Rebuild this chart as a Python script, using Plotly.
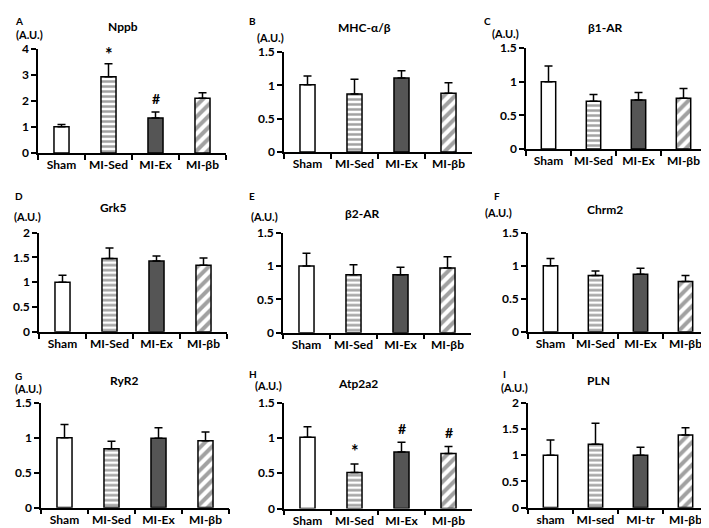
import plotly.graph_objects as go

W, H = 709, 528

groups = ["Sham", "MI-Sed", "MI-Ex", "MI-βb"]
groups_pln = ["sham", "MI-sed", "MI-tr", "MI-βb"]

titles = ["Nppb", "MHC-α/β", "β1-AR", "Grk5", "β2-AR", "Chrm2", "RyR2", "Atp2a2", "PLN"]
letters = ["A", "B", "C", "D", "E", "F", "G", "H", "I"]

nppb_val = [1.01, 2.93, 1.35, 2.11]
nppb_err = [0.09, 0.50, 0.23, 0.21]
mhc_val = [1.01, 0.87, 1.11, 0.88]
mhc_err = [0.13, 0.22, 0.11, 0.16]
b1ar_val = [1.00, 0.71, 0.73, 0.755]
b1ar_err = [0.235, 0.10, 0.11, 0.145]
grk5_val = [1.00, 1.48, 1.43, 1.34]
grk5_err = [0.14, 0.21, 0.10, 0.15]
b2ar_val = [1.00, 0.87, 0.87, 0.97]
b2ar_err = [0.19, 0.15, 0.11, 0.17]
chrm2_val = [1.00, 0.85, 0.87, 0.76]
chrm2_err = [0.11, 0.07, 0.09, 0.09]
ryr2_val = [1.00, 0.84, 0.99, 0.955]
ryr2_err = [0.19, 0.11, 0.15, 0.125]
atp_val = [1.01, 0.51, 0.80, 0.78]
atp_err = [0.15, 0.12, 0.14, 0.10]
pln_val = [1.00, 1.21, 1.00, 1.385]
pln_err = [0.29, 0.40, 0.15, 0.135]

values = [nppb_val, mhc_val, b1ar_val, grk5_val, b2ar_val, chrm2_val, ryr2_val, atp_val, pln_val]
errors = [nppb_err, mhc_err, b1ar_err, grk5_err, b2ar_err, chrm2_err, ryr2_err, atp_err, pln_err]
yranges = [4, 1.5, 1.5, 2, 1.5, 1.5, 1.5, 1.5, 2]
ytickvals = [[0, 1, 2, 3, 4], [0, 0.5, 1, 1.5], [0, 0.5, 1, 1.5], [0, 0.5, 1, 1.5, 2],
             [0, 0.5, 1, 1.5], [0, 0.5, 1, 1.5], [0, 0.5, 1, 1.5], [0, 0.5, 1, 1.5],
             [0, 0.5, 1, 1.5, 2]]
yticktext = [["0", "1", "2", "3", "4"], ["0", "0.5", "1", "1.5"], ["0", "0.5", "1", "1.5"],
             ["0", "0.5", "1", "1.5", "2"], ["0", "0.5", "1", "1.5"], ["0", "0.5", "1", "1.5"],
             ["0", "0.5", "1", "1.5"], ["0", "0.5", "1", "1.5"], ["0", "0.5", "1", "1.5", "2"]]

# significance markers: (panel index, group index, symbol, y value)
sig_panel = [0, 0, 7, 7, 7]
sig_group = [1, 2, 1, 2, 3]
sig_text = ["*", "#", "*", "#", "#"]
sig_y = [3.82, 2.09, 0.82, 1.14, 1.08]

# layout geometry (pixels)
ax_left = [30, 276, 518, 31, 275, 520, 33, 276, 520]
ax_len = [188, 188, 180, 188, 188, 180, 188, 188, 180]
ax_top = [34, 37, 33, 223, 223, 223, 398, 398, 398]
ax_bot = [141, 140, 137, 325, 326, 325, 506, 507, 506]
title_pos = [(115, 11), (356, 12), (597, 12), (106, 197), (354, 203), (597, 199),
             (116, 375), (350, 378), (590, 375)]
au_pos = [(21, 19), (262, 22), (497, 18), (19, 206), (256, 206), (490, 202),
          (20, 383), (260, 380), (506, 382)]
letter_pos = [(5, 5), (239, 5), (474, 5), (5, 185), (239, 185), (484, 185),
              (5, 371), (239, 368), (493, 368)]

FONT = "Lato"
fills = ["white", "white", "#555555", "white"]
shapes_pat = ["", "-", "", "/"]


def b(s):
    return "<b>%s</b>" % s


fig = go.Figure()
annotations = []

for i in range(9):
    n = "" if i == 0 else str(i + 1)
    cats = groups_pln if i == 8 else groups
    fig.add_trace(go.Bar(
        x=cats, y=values[i],
        xaxis="x" + n, yaxis="y" + n,
        marker=dict(
            color=fills,
            line=dict(color="black", width=1.5),
            pattern=dict(shape=shapes_pat, fgcolor="black", bgcolor="white",
                         size=[5, 5, 5, 8], solidity=0.5, fillmode="overlay"),
        ),
        error_y=dict(type="data", array=errors[i], arrayminus=[0] * 4, symmetric=False,
                     color="black", thickness=1.5, width=4),
        showlegend=False, hoverinfo="skip",
    ))
    xd = [ax_left[i] / W, (ax_left[i] + ax_len[i]) / W]
    yd = [1 - ax_bot[i] / H, 1 - ax_top[i] / H]
    fig.layout["xaxis" + n] = dict(
        domain=xd, anchor="y" + n, type="category", range=[-0.5, 3.5],
        tickvals=cats, ticktext=[b(c) for c in cats], tickangle=0,
        ticklabeloverflow="allow",
        showline=True, linecolor="black", linewidth=1.5, ticks="outside",
        tickson="boundaries", ticklen=5, tickwidth=1.5, tickcolor="black",
        showgrid=False, zeroline=False,
        tickfont=dict(family=FONT, size=12, color="black"),
    )
    fig.layout["yaxis" + n] = dict(
        domain=yd, anchor="x" + n, range=[0, yranges[i]],
        tickvals=ytickvals[i], ticktext=[b(t) for t in yticktext[i]],
        showline=True, linecolor="black", linewidth=1.5, ticks="outside",
        ticklen=5, tickwidth=1.5, tickcolor="black",
        showgrid=False, zeroline=False,
        tickfont=dict(family=FONT, size=12, color="black"),
    )
    tx, ty = title_pos[i]
    annotations.append(dict(text=b(titles[i]), x=tx / W, y=1 - ty / H,
                            xref="paper", yref="paper", showarrow=False,
                            xanchor="center", yanchor="middle",
                            font=dict(family=FONT, size=12, color="black")))
    ax_, ay_ = au_pos[i]
    annotations.append(dict(text=b("(A.U.)"), x=ax_ / W, y=1 - ay_ / H,
                            xref="paper", yref="paper", showarrow=False,
                            xanchor="center", yanchor="middle",
                            font=dict(family=FONT, size=11, color="black")))
    lx, ly = letter_pos[i]
    annotations.append(dict(text=b(letters[i]), x=lx / W, y=1 - ly / H,
                            xref="paper", yref="paper", showarrow=False,
                            xanchor="left", yanchor="middle",
                            font=dict(family=FONT, size=10, color="black")))

for p, g, t, yv in zip(sig_panel, sig_group, sig_text, sig_y):
    n = "" if p == 0 else str(p + 1)
    cats = groups_pln if p == 8 else groups
    annotations.append(dict(text=b(t), x=cats[g], y=yv,
                            xref="x" + n, yref="y" + n, showarrow=False,
                            xanchor="center", yanchor="middle",
                            font=dict(family=FONT, size=18 if t == "*" else 14, color="black")))

fig.update_layout(
    width=W, height=H, margin=dict(l=0, r=0, t=0, b=0),
    paper_bgcolor="white", plot_bgcolor="white",
    bargap=0.68, annotations=annotations,
    font=dict(family=FONT, color="black"),
)

fig.write_html("out.html")
